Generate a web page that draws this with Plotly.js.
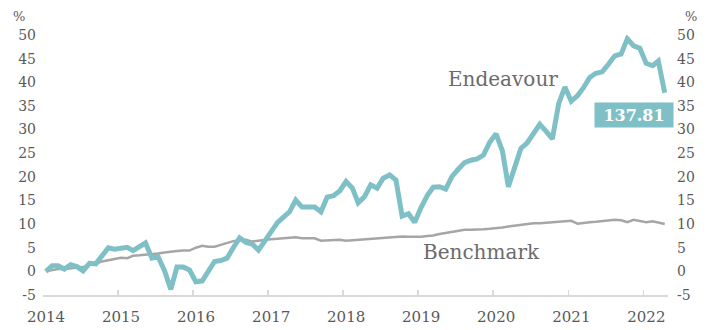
<!DOCTYPE html>
<html>
<head>
<meta charset="utf-8">
<script src="https://cdn.plot.ly/plotly-3.0.1.min.js"></script>
<style>html,body{margin:0;padding:0;background:#fff;}#chart{width:725px;height:330px;}</style>
</head>
<body>
<div id="chart"></div>
<script>
// Monthly observations, Jan 2014 .. Apr 2022 (values in %)
const startYear = 2014;
const endeavour = [
  0, 1.2, 1.2, 0.5, 1.4, 1.0, 0.1, 1.7, 1.6, 3.5, 5.0, 4.7,
  4.9, 5.1, 4.4, 5.2, 6.0, 2.8, 3.1, 0.2, -3.8, 0.9, 0.9, 0.3,
  -2.2, -2.0, 0.2, 2.1, 2.3, 2.8, 5.0, 7.1, 6.1, 5.8, 4.5, 6.5,
  8.4, 10.3, 11.4, 12.6, 15.1, 13.6, 13.6, 13.6, 12.6, 15.7, 16.0, 17.0,
  19.0, 17.6, 14.5, 15.8, 18.3, 17.6, 19.7, 20.4, 19.3, 11.7, 12.2, 10.4,
  13.5, 16.1, 17.8, 17.9, 17.4, 20.1, 21.6, 23.0, 23.5, 23.8, 24.6, 27.3,
  29.1, 25.5, 17.9, 22.0, 26.0, 27.2, 29.3, 31.1, 29.6, 28.0, 35.5, 39.0,
  36.0, 37.2, 38.8, 41.0, 41.9, 42.2, 43.8, 45.6, 46.0, 49.2, 47.7, 47.2,
  44.0, 43.5, 44.5, 37.8
];
const benchmark = [
  0, 0.3, 0.5, 0.5, 0.6, 0.8, 0.9, 1.4, 1.6, 2.1, 2.4, 2.6,
  2.9, 2.8, 3.3, 3.4, 3.5, 3.6, 3.8, 4.0, 4.2, 4.3, 4.4, 4.4,
  5.0, 5.4, 5.2, 5.2, 5.6, 6.0, 6.4, 6.6, 6.7, 6.3, 6.5, 6.7,
  6.8, 6.9, 7.0, 7.1, 7.2, 7.0, 7.0, 7.0, 6.5, 6.6, 6.7, 6.7,
  6.5, 6.6, 6.7, 6.8, 6.9, 7.0, 7.0, 7.1, 7.2, 7.4, 7.3, 7.3,
  7.3, 7.5, 7.6, 7.9, 8.1, 8.3, 8.5, 8.8, 8.8, 8.8, 8.9, 9.0,
  9.1, 9.3, 9.5, 9.7, 9.9, 10.0, 10.2, 10.2, 10.3, 10.4, 10.4, 10.6,
  10.7, 10.1, 10.3, 10.4, 10.5, 10.6, 10.7, 10.9, 10.8, 10.4, 10.9, 10.6,
  10.4, 10.6, 10.3, 10.0
];
const endLabel = "137.81";
const yTicks = [-5, 0, 5, 10, 15, 20, 25, 30, 35, 40, 45, 50];
const yTickText = ["-5", "0", "5", "10", "15", "20", "25", "30", "35", "40", "45", "50"];
const xTickYears = [2014, 2015, 2016, 2017, 2018, 2019, 2020, 2021, 2022];

function monthDate(i) {
  const y = startYear + Math.floor(i / 12);
  const m = (i % 12) + 1;
  return y + "-" + String(m).padStart(2, "0") + "-15";
}
const dates = endeavour.map((_, i) => monthDate(i));

const teal = "#7fc0c6";
const grey = "#a6a6a6";
const textCol = "#595959";
const serif = "DejaVu Serif, Georgia, serif";

const traces = [
  {x: dates, y: benchmark, type: "scatter", mode: "lines", name: "Benchmark",
   line: {color: grey, width: 2.5}, hoverinfo: "skip"},
  {x: dates, y: endeavour, type: "scatter", mode: "lines", name: "Endeavour",
   line: {color: teal, width: 5}, hoverinfo: "skip"},
  {x: [], y: [], type: "scatter", mode: "lines", yaxis: "y2", hoverinfo: "skip", showlegend: false}
];

const tickFont = {family: serif, size: 14, color: textCol};
const layout = {
  width: 725, height: 330,
  margin: {l: 43, r: 57, t: 35, b: 35},
  paper_bgcolor: "#fff", plot_bgcolor: "#fff",
  showlegend: false,
  xaxis: {
    type: "date",
    range: ["2014-01-01", "2022-05-01"],
    tickvals: xTickYears.map(y => y + "-01-01"),
    ticktext: xTickYears.map(String),
    showgrid: false, zeroline: false,
    showline: true, linecolor: "#d9d9d9", linewidth: 2,
    ticks: "inside", ticklen: 5, tickcolor: "#d9d9d9", tickwidth: 1.5,
    tickfont: {family: serif, size: 15, color: textCol},
    ticklabelshift: 3, ticklabelstandoff: 7
  },
  yaxis: {
    range: [-5, 50],
    tickvals: yTicks, ticktext: yTickText,
    showgrid: false, zeroline: false, showline: false,
    ticks: "", tickfont: tickFont, ticklabelstandoff: 6
  },
  yaxis2: {
    range: [-5, 50], overlaying: "y", side: "right", matches: "y",
    tickvals: yTicks, ticktext: yTickText,
    showgrid: false, zeroline: false, showline: false,
    ticks: "", tickfont: tickFont, ticklabelstandoff: 8
  },
  annotations: [
    {xref: "paper", yref: "paper", x: 0.736, y: 0.831, xanchor: "center", yanchor: "middle",
     text: "Endeavour", showarrow: false, font: {family: serif, size: 20, color: "#6b6b6b"}},
    {xref: "paper", yref: "paper", x: 0.702, y: 0.166, xanchor: "center", yanchor: "middle",
     text: "Benchmark", showarrow: false, font: {family: serif, size: 20, color: "#6b6b6b"}},
    {xref: "paper", yref: "paper", x: 0.9456, y: 0.693, xanchor: "center", yanchor: "middle",
     text: "<b>" + endLabel + "</b>", showarrow: false, bgcolor: teal, borderpad: 3, width: 72, height: 18,
     font: {family: serif, size: 16, color: "#ffffff"}},
    {xref: "paper", yref: "paper", x: -0.0505, y: 1.073, xanchor: "left", yanchor: "middle",
     text: "%", showarrow: false, font: {family: serif, size: 13, color: textCol}},
    {xref: "paper", yref: "paper", x: 1.024, y: 1.073, xanchor: "left", yanchor: "middle",
     text: "%", showarrow: false, font: {family: serif, size: 13, color: textCol}}
  ]
};

Plotly.newPlot("chart", traces, layout, {staticPlot: true, displayModeBar: false});
</script>
</body>
</html>
